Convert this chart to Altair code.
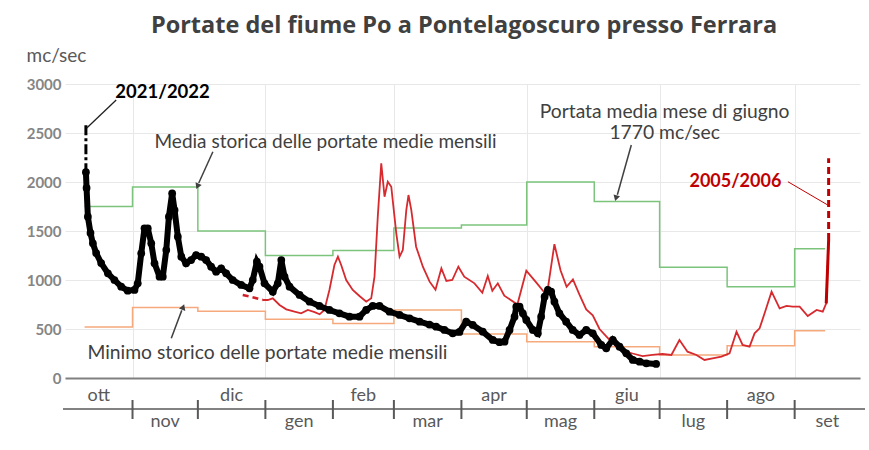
import altair as alt
import pandas as pd

# ---------------- data (x = days since 1 October, y = mc/sec) ----------------
black_day = [9.6, 9.9, 10.5, 11.7, 12.8, 14.3, 16.6, 19.7, 22.7, 25.8, 28.8, 31.9, 33.4, 35.0, 36.5,
             38.0, 39.6, 41.1, 43.4, 44.9, 46.5, 47.7, 49.2, 50.3, 51.8, 53.4, 55.6, 57.9, 60.2,
             62.5, 64.8, 67.1, 69.4, 71.7, 74.0, 77.0, 80.9, 84.7, 86.2, 88.1, 89.3, 91.6, 95.4,
             97.7, 99.3, 100.8, 103.1, 107.7, 112.3, 116.8, 121.4, 126.0, 130.6, 135.2, 138.3,
             141.3, 144.4, 149.0, 153.6, 158.2, 162.8, 167.3, 170.4, 174.2, 178.0, 181.1, 184.2,
             187.2, 191.8, 196.4, 199.5, 201.8, 204.1, 206.4, 207.2, 208.7, 210.2, 211.8, 214.8,
             217.1, 218.6, 220.2, 221.7, 223.2, 224.7, 227.0, 230.1, 233.1, 236.2, 239.3, 242.3,
             246.2, 248.5, 251.5, 254.6, 257.7, 260.7, 263.8, 266.9, 271.4]
black_val = [2100, 1939, 1646, 1480, 1374, 1275, 1173, 1068, 1000, 932, 891, 898, 966, 1272, 1527,
             1527, 1374, 1170, 1034, 1034, 1306, 1646, 1885, 1714, 1442, 1238, 1170, 1204, 1255,
             1238, 1204, 1136, 1085, 1119, 1068, 1000, 949, 915, 1000, 1187, 1136, 966, 881,
             966, 1204, 1034, 932, 847, 779, 735, 694, 660, 626, 626, 694,
             735, 735, 677, 643, 609, 575, 545, 524, 490, 456, 470, 575,
             541, 473, 388, 365, 371, 490, 626, 728, 728, 660, 592, 490,
             456, 626, 830, 898, 881, 779, 660, 575, 490, 439, 490, 456,
             337, 303, 390, 320, 252, 184, 166, 150, 143]
black_start_day = [9.6, 9.6]
black_start_val = [2580, 2100]

red_dash_day = [81.6, 86.0, 90.8]
red_dash_val = [847, 825, 796]
red_day = [90.8, 93.1, 95.4, 98.5, 101.6, 105.4, 108.4, 111.5, 114.6, 116.9, 119.1, 121.4, 123.7,
           125.3, 126.8, 129.1, 132.1, 135.2, 138.3, 140.6, 142.1, 143.6, 145.2, 146.7, 148.2,
           149.8, 152.1, 153.6, 155.1, 156.7, 157.7, 159.0, 161.2, 164.3, 167.4, 170.1, 172.8,
           175.1, 177.8, 180.6, 183.3, 188.0, 191.6, 194.1, 196.2, 198.7, 201.7, 207.7, 211.8,
           216.7, 220.2, 221.8, 224.7, 227.5, 230.3, 233.2, 236.2, 239.3, 242.3, 245.4, 250.0,
           254.6, 260.6, 265.2, 269.7, 274.3, 278.4, 282.1, 285.8, 289.9, 293.6, 297.3, 301.4,
           305.1, 308.3, 311.1, 314.3, 316.6, 318.9, 321.2, 324.4, 328.1, 331.3, 334.1, 337.3,
           341.0, 345.1, 347.9, 349.5, 350.6]
red_val = [796, 796, 813, 745, 701, 677, 660, 694, 672, 650, 694, 898, 1153,
           1238, 1153, 1000, 898, 837, 779, 813, 1034, 1646, 2190, 1850, 2003,
           1952, 1476, 1238, 1306, 1714, 1867, 1714, 1340, 1136, 983, 900, 1119,
           990, 1000, 1136, 1034, 966, 870, 1040, 890, 966, 840, 750, 1095,
           966, 870, 932, 1365, 1100, 930, 1005, 850, 700, 640, 500, 390,
           290, 250, 224, 235, 245, 235, 388, 269, 235, 184, 201, 218,
           252, 473, 337, 320, 456, 507, 660, 881, 711, 735, 728, 728,
           633, 694, 677, 762, 1408]
red_spike_day = [350.6, 350.6]
red_spike_val = [1408, 2242]

step_day = [9, 31, 61, 92, 123, 151, 182, 212, 243, 273, 304, 335, 349]
mean_val = [1750, 1950, 1500, 1250, 1300, 1530, 1560, 2000, 1800, 1130, 930, 1320, 1320]
min_val = [520, 720, 680, 600, 555, 695, 450, 371, 320, 235, 330, 483, 483]

months = ["ott", "nov", "dic", "gen", "feb", "mar", "apr", "mag", "giu", "lug", "ago", "set"]
month_len = [31, 30, 31, 31, 28, 31, 30, 31, 30, 31, 31, 30]
y_ticks = [0, 500, 1000, 1500, 2000, 2500, 3000]
grid_days = [31, 92, 151, 212, 273, 335]

# ---------------- styling ----------------
W, H = 795, 294
GRAY_TXT = "#404040"
FONT = "Lato"
xs = alt.Scale(domain=[0, 365], nice=False, zero=False)
ys = alt.Scale(domain=[0, 3000], nice=False, zero=False)

X_AXIS = alt.Axis(values=grid_days, grid=True, gridColor="#e8e8e8", labels=False, ticks=False,
                  domain=True, domainColor="#808080", domainWidth=2, title=None)
Y_AXIS = alt.Axis(values=y_ticks, format="d", grid=True, gridColor="#e8e8e8", labelColor="#858585",
                  labelFont=FONT, labelFontSize=15, labelFontWeight="bold", ticks=False,
                  domain=False, labelPadding=4, title="mc/sec", titleAngle=0, titleX=-39,
                  titleY=-29, titleAlign="left", titleBaseline="middle", titleFont=FONT,
                  titleFontSize=19, titleFontWeight="normal", titleColor="#595959")


def XE(f="d"):
    return alt.X(f"{f}:Q", scale=xs, axis=X_AXIS)


def YE(f="v"):
    return alt.Y(f"{f}:Q", scale=ys, axis=Y_AXIS)


def df(d, v, **extra):
    out = pd.DataFrame({"d": d, "v": v})
    for k, val in extra.items():
        out[k] = val
    return out


layers = []

# mean and minimum monthly step lines
layers.append(alt.Chart(df(step_day, mean_val)).mark_line(
    interpolate="step-after", color="#7cc47c", strokeWidth=1.5).encode(x=XE(), y=YE()))
layers.append(alt.Chart(df(step_day, min_val)).mark_line(
    interpolate="step-after", color="#f5a97c", strokeWidth=1.5).encode(x=XE(), y=YE()))

# red 2005/2006
layers.append(alt.Chart(df(red_dash_day, red_dash_val)).mark_line(
    color="#d0202a", strokeWidth=2.5, strokeDash=[6, 4]).encode(x=XE(), y=YE()))
layers.append(alt.Chart(df(red_day, red_val).reset_index()).mark_line(
    color="#d62a2f", strokeWidth=1.8).encode(x=XE(), y=YE(), order="index:Q"))
layers.append(alt.Chart(df(red_day[-2:], red_val[-2:])).mark_line(
    color="#c00000", strokeWidth=3).encode(x=XE(), y=YE()))
layers.append(alt.Chart(df(red_spike_day, red_spike_val)).mark_line(
    color="#c00000", strokeWidth=3, strokeDash=[7, 4]).encode(x=XE(), y=YE()))

# black 2021/2022
layers.append(alt.Chart(df(black_start_day, black_start_val)).mark_line(
    color="black", strokeWidth=3, strokeDash=[10, 3, 3, 3]).encode(x=XE(), y=YE()))
bdf = df(black_day, black_val).reset_index()
layers.append(alt.Chart(bdf).mark_line(color="black", strokeWidth=6).encode(
    x=XE(), y=YE(), order="index:Q"))
layers.append(alt.Chart(bdf).mark_circle(color="black", size=60, opacity=1).encode(x=XE(), y=YE()))


# ---------------- annotations ----------------
def seg(d1, v1, d2, v2, color, width):
    return alt.Chart(pd.DataFrame({"d": [d1], "v": [v1], "d2": [d2], "v2": [v2]})).mark_rule(
        color=color, strokeWidth=width).encode(x=XE(), y=YE(), x2="d2:Q", y2="v2:Q")


def head(d, v, angle):
    return alt.Chart(df([d], [v])).mark_point(shape="triangle", filled=True, size=45, opacity=1,
                                              color=GRAY_TXT, angle=angle).encode(x=XE(), y=YE())


def label(d, v, text, align="left", color=GRAY_TXT, size=19, weight="normal"):
    return alt.Chart(pd.DataFrame({"d": [d], "v": [v], "t": [text]})).mark_text(
        align=align, baseline="middle", font=FONT, fontSize=size, fontWeight=weight,
        color=color).encode(x=XE(), y=YE(), text="t:N")


layers += [
    seg(10.0, 2551, 23.5, 2837, "#202020", 1.3),
    label(44.8, 2918, "2021/2022", align="center", color="black", size=18.5, weight="bold"),
    seg(67.9, 2309, 61.4, 1990, GRAY_TXT, 1.5),
    head(61.0, 1965, 203),
    label(41.1, 2408, "Media storica delle portate medie mensili"),
    seg(48.8, 405, 53.6, 690, GRAY_TXT, 1.5),
    head(54.1, 715, 20),
    label(10.3, 255, "Minimo storico delle portate medie mensili", size=19.3),
    seg(260.0, 2378, 253.6, 1870, GRAY_TXT, 1.5),
    head(253.1, 1845, 196),
    label(275.3, 2714, "Portata media mese di giugno", align="center", size=19.3),
    label(275.3, 2500, "1770 mc/sec", align="center", size=19.3),
    seg(331.9, 2003, 350.2, 1765, "#c00000", 1),
    label(307.8, 2000, "2005/2006", align="center", color="#c00000", size=18, weight="bold"),
]

# title
layers.append(alt.Chart(pd.DataFrame({"t": ["Portate del fiume Po a Pontelagoscuro presso Ferrara"]}))
              .mark_text(align="center", baseline="middle", font="Open Sans", fontSize=23.5,
                         fontWeight="bold", color=GRAY_TXT)
              .encode(x=alt.value(399), y=alt.value(-58), text="t:N"))

# ---------------- month band below the axis ----------------
starts = [sum(month_len[:i]) for i in range(len(month_len))]
mdf = pd.DataFrame({"m": months, "mid": [s + l / 2 for s, l in zip(starts, month_len)],
                    "row": [i % 2 for i in range(len(months))]})
layers.append(alt.Chart(mdf[mdf.row == 0]).mark_text(
    align="center", baseline="middle", font=FONT, fontSize=18, color="#595959").encode(
    x=XE("mid"), y=alt.value(312), text="m:N"))
layers.append(alt.Chart(mdf[mdf.row == 1]).mark_text(
    align="center", baseline="middle", font=FONT, fontSize=18, color="#595959").encode(
    x=XE("mid"), y=alt.value(338), text="m:N"))
layers.append(alt.Chart(pd.DataFrame({"a": [0]})).mark_rule(color="#595959", strokeWidth=1.5).encode(
    x=alt.value(-2), x2=alt.value(800), y=alt.value(325)))
layers.append(alt.Chart(pd.DataFrame({"d": starts[1:]})).mark_rule(color="#595959", strokeWidth=2).encode(
    x=XE(), y=alt.value(316), y2=alt.value(335)))

chart = alt.layer(*layers).properties(
    width=W, height=H,
    autosize=alt.AutoSizeParams(type="none"),
    padding={"left": 65, "top": 84, "right": 9, "bottom": 72},
    background="white",
).configure_view(stroke=None)

chart.save("out.html", embed_options={"renderer": "svg", "actions": False})
